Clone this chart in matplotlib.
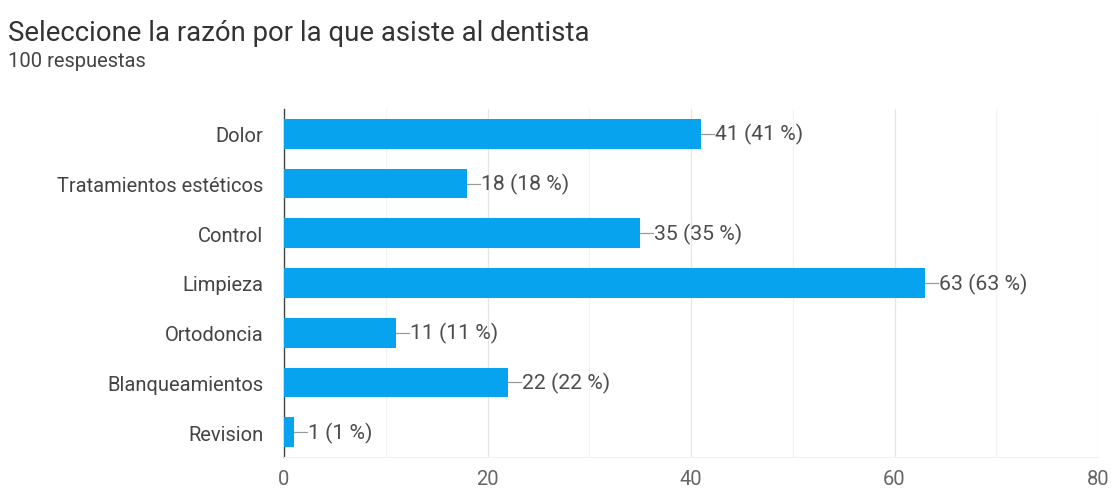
import matplotlib.pyplot as plt
from matplotlib.ticker import MultipleLocator

plt.rcParams['font.family'] = ['Roboto', 'DejaVu Sans']

# Datos de la encuesta
razones = ['Dolor', 'Tratamientos estéticos', 'Control', 'Limpieza',
           'Ortodoncia', 'Blanqueamientos', 'Revision']
respuestas = [41, 18, 35, 63, 11, 22, 1]
total = 100
ticks_x = [0, 20, 40, 60, 80]

azul = '#08a3ef'
gris_texto = '#666666'

fig = plt.figure(figsize=(11.12, 4.89), dpi=100)
ax = fig.add_axes([284 / 1112, 1 - 458 / 489, (1098 - 284) / 1112, (458 - 110) / 489])

pos = list(range(len(razones)))
ax.barh(pos, respuestas, height=0.6, color=azul, zorder=3)
ax.set_ylim(len(razones) - 0.5, -0.5)
ax.set_xlim(0, 80)

# Etiquetas de valor con linea guia
for y, v in zip(pos, respuestas):
    pct = round(v / total * 100)
    ax.plot([v, v + 1.3], [y, y], color='#9a9a9a', lw=0.9, zorder=3)
    ax.text(v + 1.4, y, f'{v} ({pct} %)', va='center', ha='left',
            fontsize=15.3, color='#4d4d4d', zorder=4)

ax.set_yticks(pos)
ax.set_yticklabels(razones, fontsize=14.5, color='#444444')
ax.set_xticks(ticks_x)
ax.set_xticklabels([str(t) for t in ticks_x], fontsize=14.5, color=gris_texto)
ax.xaxis.set_minor_locator(MultipleLocator(10))
ax.tick_params(axis='both', length=0, which='both')
ax.tick_params(axis='y', pad=15)
ax.tick_params(axis='x', pad=9)

ax.grid(axis='x', which='major', color='#e6e6e6', lw=0.9, zorder=0)
ax.grid(axis='x', which='minor', color='#f3f3f3', lw=0.9, zorder=0)

for lado in ['top', 'right']:
    ax.spines[lado].set_visible(False)
ax.spines['bottom'].set_color('#f0f0f0')
ax.spines['left'].set_color('#444444')
ax.spines['left'].set_linewidth(1.0)

fig.text(8 / 1112, 1 - 41 / 489, 'Seleccione la razón por la que asiste al dentista',
         fontsize=19.8, color='#333333', ha='left', va='baseline')
fig.text(8 / 1112, 1 - 67 / 489, '100 respuestas', fontsize=14.5,
         color='#444444', ha='left', va='baseline')

fig.savefig('out.png', dpi=100, facecolor='white')
